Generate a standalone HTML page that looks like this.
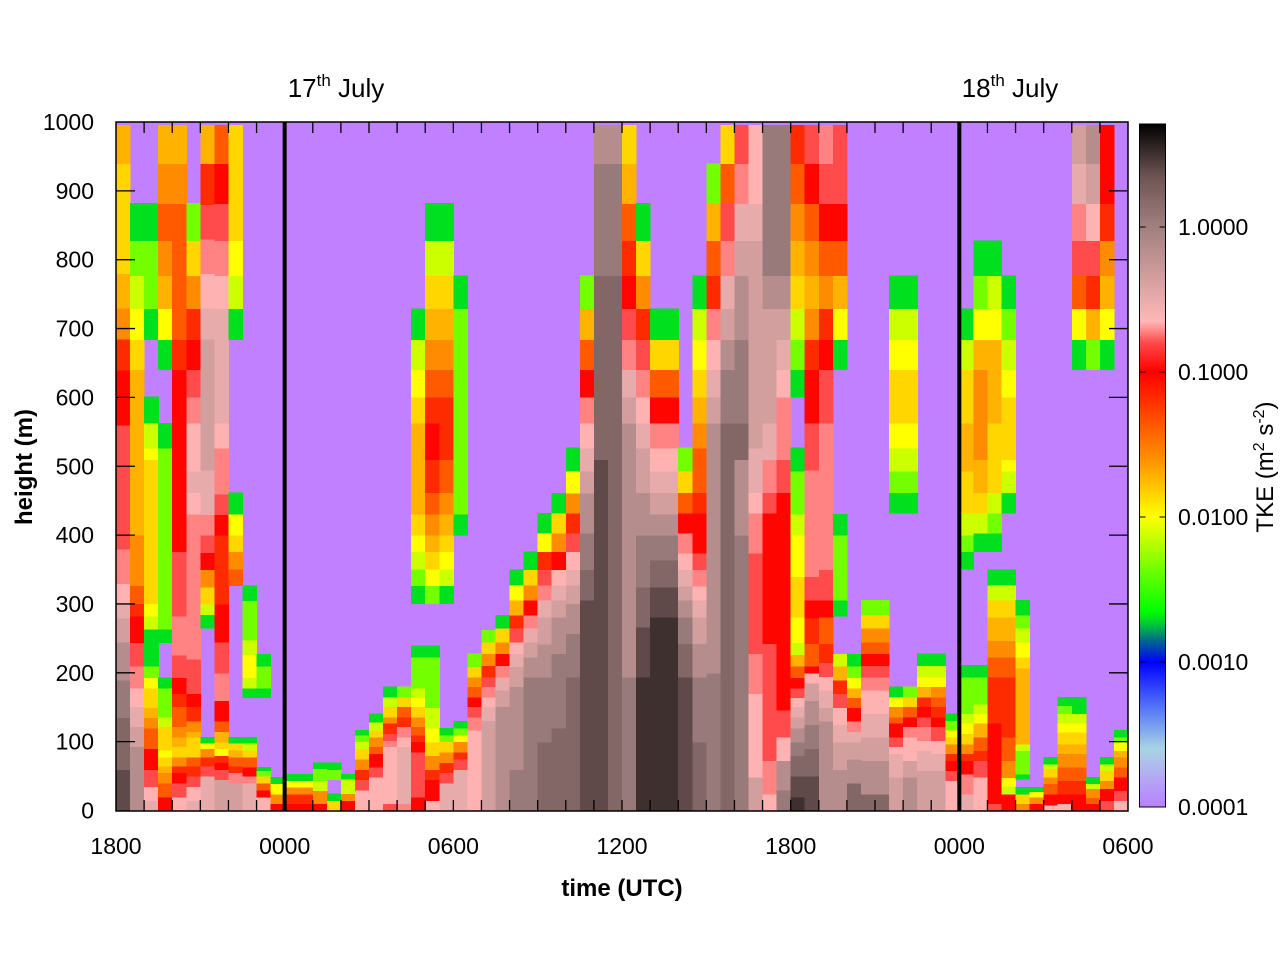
<!DOCTYPE html>
<html><head><meta charset="utf-8"><title>TKE time-height</title>
<style>
html,body{margin:0;padding:0;background:#fff;}
svg{display:block;font-family:"Liberation Sans",sans-serif;}
</style></head>
<body>
<svg id="chart" width="1280" height="960" viewBox="0 0 1280 960" xmlns="http://www.w3.org/2000/svg">
  <rect x="0" y="0" width="1280" height="960" fill="#ffffff"/>
  <rect x="116" y="122" width="1012" height="689" fill="#c080ff"/>
  <g id="heat" shape-rendering="crispEdges"></g>
  <g id="overlay"></g>
  <g id="cbar" shape-rendering="crispEdges"></g>
  <text x="336" y="97" font-size="26" text-anchor="middle" fill="#000">17<tspan font-size="17" dy="-11">th</tspan><tspan dy="11"> July</tspan></text>
  <text x="1010" y="97" font-size="26" text-anchor="middle" fill="#000">18<tspan font-size="17" dy="-11">th</tspan><tspan dy="11"> July</tspan></text>
  <text x="622" y="896" font-size="24" font-weight="bold" text-anchor="middle" fill="#000">time (UTC)</text>
  <text transform="translate(32,467) rotate(-90)" font-size="24" font-weight="bold" text-anchor="middle" fill="#000">height (m)</text>
  <text transform="translate(1273,467) rotate(-90)" font-size="24" text-anchor="middle" fill="#000">TKE (m<tspan font-size="16" dy="-9">2</tspan><tspan dy="9"> s</tspan><tspan font-size="16" dy="-9">-2</tspan><tspan dy="9">)</tspan></text>
</svg>
<script>
// ---- data ----
const levelCodes = ["g","l","v","y","Y","o","O","n","r","R","s","p","P","w","m","b","B","c","d","k"];
const levelValues = [0.002,0.0044,0.0074,0.010,0.014,0.019,0.026,0.042,0.066,0.095,0.16,0.19,0.22,0.32,0.45,0.71,1.12,1.6,2.5,3.2];
const profiles = [
"d60 c135 B190 b245 m280 w300 P330 p380 s560 R640 r685 O730 o780 Y940 o1000",
"b93 m122 w151 P178 p210 s244 R283 r301 n327 O400 o641 Y684 y729 v777 l828 g882",
"w15 P35 s60 R90 n120 O135 o150 Y178 y193 l210 g264 v283 y301 Y510 y527 v563 g601 .684 g729 l828 g882",
"R20 n40 O55 o65 Y78 y88 Y122 v136 l178 g193 .244 g264 l527 g563 .641 g684 y729 o777 O828 n882 O940 o1000",
"P20 s40 R55 r65 O78 Y93 o107 O122 n136 n151 r170 R193 s226 p283 s376 R641 r684 n882 O940 o1000",
"w15 P35 s50 r65 n78 Y107 o115 O130 r151 R170 s220 p431 P462 w493 P563 p601 s641 R684 r729 O777 Y828 l882",
"w50 s65 r78 O90 y98 g107 .265 g285 v300 Y325 O350 R375 s400 p430 w495 m685 w730 P780 p830 s880 r940 o1000",
"m45 s60 R70 r80 y90 Y100 o115 n130 R160 p200 s245 R300 r400 R430 s460 p527 P563 w729 P777 p828 s882 R940 n1000",
"m40 p55 r65 n78 o88 Y98 g107 .327 n351 O376 Y400 y431 g462 .684 g729 v777 y828 Y1000",
"w40 p50 R63 n78 Y88 v98 g107 .164 g178 v193 y227 v248 l305 g327",
"P20 R30 n40 Y50 l58 g63 .164 g178 l210 g227",
"R10 O24 y39 g49",
"R10 r24 O34 y44 g53",
"R10 r24 O34 y44 g53",
"R10 O29 v44 l61 g70",
"Y15 g25 .45 l60 g70",
"R15 O25 v46 g53",
"P30 s45 r60 O75 Y90 v100 l110 g117",
"P49 s63 R83 n93 O107 Y117 v129 g141",
"s10 P93 p102 s112 r127 O136 Y151 v165 g180",
"p10 w93 P107 p122 r136 n151 Y165 l180",
"R20 s85 R100 r110 n122 O136 Y151 y164 v178 l223 g240 .301 g327 l351 v376 y400 Y431 o563 Y601 y641 v684 g729",
"P15 R45 r60 O80 Y100 y120 v150 l223 g240 .301 l327 y351 Y376 o400 O431 n462 r510 R563 r601 n641 O684 o729 Y777 v828 g882",
"w40 s55 r70 O85 Y100 l110 g120 .301 g327 v351 y376 Y400 o431 O462 n510 r601 n641 O684 o729 Y777 v828 g882",
"w60 s75 r85 O100 y110 l120 g130 .400 g431 l729 g777",
"P117 p136 s151 R165 n180 O194 Y209 l228",
"m131 w151 P165 p180 s194 r211 O228 Y245 l262",
"b151 m175 w194 p211 R228 O245 Y265 g284",
"B60 b180 m209 w228 P245 s265 r284 o306 y328 g350",
"B194 b223 m245 w265 p284 R306 O328 Y350 g376",
"c100 B194 b242 m281 w306 p328 s350 r376 y403 g432",
"c120 B228 b281 m306 w328 P350 R376 O403 Y432 g461",
"c194 B257 b301 m328 w350 P376 s403 r432 O461 y493 g527",
"d306 c350 B403 b461 m493 w527 P563 p601 R641 n684 o729 l777",
"d510 c777 B940 b1000",
"c777 B940 b1000",
"B194 b563 m601 w641 p684 s729 R777 r828 n882 o940 Y1000",
"k194 d267 c325 B400 b462 m527 w563 P601 p641 s684 r729 O777 Y828 g882",
"k281 d325 c364 B400 b431 m462 w493 P527 p563 R601 n641 Y684 g729",
"k281 d325 c364 B400 b431 m462 w493 P527 p563 R601 n641 Y684 g729",
"d194 c243 B281 b306 m326 w350 P374 p403 R432 n462 Y493 l527",
"c100 B194 b243 m281 w306 P326 p350 s374 R432 r462 n527 O563 o601 Y641 y684 v729 g777",
"B200 b563 m601 w641 P684 p729 r777 n828 o882 l940",
"c563 B641 b684 m729 w777 p828 s882 n940 Y1000",
"B400 b510 c563 B684 b777 m828 w882 p940 s1000",
"m49 P170 p228 s374 p432 P462 w527 m828 w882 P1000",
"P24 p73 s243 R432 s462 p510 w563 m729 b777 B1000",
"B30 b73 P107 s146 R462 s510 p601 P641 w684 m729 b777 B1000",
"k20 d50 c80 B100 b120 m136 w151 P164 s178 R193 n210 o227 v244 y281 Y340 y400 v431 l493 g527 .601 g641 l684 v729 Y777 o828 O882 n940 r1000",
"d50 c90 B125 b160 m185 P200 R210 n243 r280 R306 s340 p495 s563 R641 r684 O729 o777 O828 n882 R940 s1000",
"b130 m150 w175 P195 s215 r243 n281 R306 s350 p563 s641 R684 r729 O777 n828 R882 s940 p1000",
"b60 m100 w125 P150 s170 r190 o210 v227 .283 g306 l400 g431 .641 g684 y729 o777 n828 R882 s1000",
"c40 b75 m100 w115 p130 R150 n164 o178 y193 l210 g227",
"c24 b73 m107 w141 P175 p194 s211 R228 n245 O265 Y284 l306",
"c24 b73 m107 w141 P175 p194 s211 R228 n245 O265 Y284 l306",
"m49 w83 P93 s107 R127 n136 O151 y165 g180 .432 g462 l493 v527 y563 Y641 y684 v729 g777",
"b49 m73 P107 p122 R136 n151 Y165 l180 .432 g462 l493 v527 y563 Y641 y684 v729 g777",
"m58 w87 P102 p122 s136 R151 r165 o180 y194 v211 g228",
"m58 w83 P102 s122 R136 r151 n165 O180 y194 v211 g228",
"P44 s58 R73 r83 O97 Y107 y117 l131 g141",
"w24 p53 R73 r83 O97 Y112 y127 v141 l194 g211 .351 g376 l400 v432 Y493 o563 Y641 v684 g729",
"P49 s73 r87 n107 o127 y141 v155 l194 g211 .376 g403 v432 Y462 o510 O641 o684 y729 l777 g828",
"s10 R127 r194 n223 O247 o281 Y306 v328 g350 .376 g403 l432 v462 Y563 o684 y729 v777 g828",
"R24 v36 y48 O73 n107 r194 n223 O247 o281 Y306 v328 g350 .432 g462 v493 y510 Y601 y641 v684 l729 g777",
"O10 Y24 g34 .46 g53 l87 v97 o207 Y223 y245 v265 l284 g306",
"R10 O20 y28 g34",
"P8 R24 n39 O49 Y61 v68 g78",
"P10 R24 r44 n63 O83 o97 Y114 y127 v141 l153 g165",
"R24 r44 n63 O83 o97 Y114 y127 v141 g165 .641 g684 y729 n777 s828 p882 w940 m1000",
"R10 n19 O32 v39 g49 .641 l684 o729 r777 s828 P882 m940 b1000",
"s15 R32 O44 Y58 v68 g78 .641 g684 y729 o777 O828 r882 R1000",
"P15 s29 R49 n63 O78 o87 y100 l107 g117"
];
const heightTicks = [0,100,200,300,400,500,600,700,800,900,1000];
const timeTickHours = [0,6,12,18,24,30,36];
const timeTickLabels = ["1800","0000","0600","1200","1800","0000","0600"];
const dayLineHours = [6,30];
const cbTickValues = [0.0001,0.001,0.01,0.1,1];
const cbTickLabels = ["0.0001","0.0010","0.0100","0.1000","1.0000"];
const columnStepHours = 0.5;

// ---- scales ----
const X0=116, X1=1128, Y0=810.5, Y1=122, HOURS=36;
function xScale(h){return X0+(X1-X0)*h/HOURS;}
function yScale(m){return Y0+(Y1-Y0)*m/1000;}
const CB_TOP=124, CB_BOT=807, LMIN=-4, LMAX=0.71;
function cbScale(v){return CB_BOT-(Math.log10(v)-LMIN)*145;}
const stops=[[-4,[184,128,255]],[-3.8,[180,168,244]],[-3.6,[168,212,228]],[-3.3,[80,112,248]],[-3,[0,0,255]],[-2.85,[0,106,138]],[-2.75,[0,192,64]],[-2.65,[0,255,0]],[-2,[255,255,0]],[-1.6,[255,144,0]],[-1,[255,0,0]],[-0.8,[255,72,72]],[-0.65,[255,184,184]],[0,[160,128,128]],[0.35,[110,84,84]],[0.71,[0,0,0]]];
function colorFor(v){
  const L=Math.log10(v);
  if(L<=stops[0][0]) return "rgb("+stops[0][1].join(",")+")";
  for(let i=1;i<stops.length;i++){
    if(L<=stops[i][0]){
      const a=stops[i-1],b=stops[i],t=(L-a[0])/(b[0]-a[0]);
      const c=a[1].map((q,k)=>Math.round(q+(b[1][k]-q)*t));
      return "rgb("+c.join(",")+")";
    }
  }
  return "rgb(0,0,0)";
}
const NS="http://www.w3.org/2000/svg";
function mk(tag,attrs,parent){const e=document.createElementNS(NS,tag);for(const k in attrs)e.setAttribute(k,attrs[k]);parent.appendChild(e);return e;}

// ---- heatmap ----
const heat=document.getElementById("heat");
profiles.forEach((prof,i)=>{
  const t0=i*columnStepHours, t1=t0+columnStepHours;
  const xa=xScale(t0), xb=xScale(t1);
  let bottom=0;
  prof.trim().split(/\s+/).forEach(seg=>{
    const code=seg[0], top=Math.min(parseFloat(seg.slice(1)),996);
    if(code!=="."){
      const v=levelValues[levelCodes.indexOf(code)];
      const r=mk("rect",{x:xa.toFixed(2),y:yScale(top).toFixed(2),width:(xb-xa+0.6).toFixed(2),height:(yScale(bottom)-yScale(top)+0.6).toFixed(2),fill:colorFor(v)},heat);
      
      
    }
    bottom=top;
  });
});

// ---- axes ----
const ov=document.getElementById("overlay");
dayLineHours.forEach(h=>{
  const l=mk("line",{x1:xScale(h),x2:xScale(h),y1:Y1,y2:811,stroke:"#000","stroke-width":4},ov);
  
  
});
for(let h=1;h<HOURS;h++){
  const x=xScale(h);
  const a=mk("line",{x1:x,x2:x,y1:Y1,y2:Y1+11,stroke:"#000","stroke-width":1.3},ov);
  
  
  const b=mk("line",{x1:x,x2:x,y1:811,y2:800,stroke:"#000","stroke-width":1.3},ov);
  
  
}
timeTickHours.forEach((h,i)=>{
  const t=mk("text",{x:xScale(h),y:854,"font-size":23,"text-anchor":"middle",fill:"#000"},ov);
  t.textContent=timeTickLabels[i];
  
  
});
heightTicks.forEach(m=>{
  const y=yScale(m);
  if(m>0&&m<1000){
    const a=mk("line",{x1:X0,x2:X0+19,y1:y,y2:y,stroke:"#000","stroke-width":1.3},ov);
    
    
    const b=mk("line",{x1:X1-19,x2:X1,y1:y,y2:y,stroke:"#000","stroke-width":1.3},ov);
    
    
  }
  const t=mk("text",{x:94,y:y+8,"font-size":23,"text-anchor":"end",fill:"#000"},ov);
  t.textContent=String(m);
  
  
});
const fr=mk("rect",{x:X0,y:Y1,width:X1-X0,height:811-Y1,fill:"none",stroke:"#000","stroke-width":1.5},ov);



// ---- colorbar ----
const cb=document.getElementById("cbar");
const CBX=1139.5, CBW=26;
for(let y=CB_TOP;y<CB_BOT;y+=1){
  const L=LMIN+(CB_BOT-y-0.5)/145;
  const r=mk("rect",{x:CBX,y:y,width:CBW,height:1.2,fill:colorFor(Math.pow(10,L))},cb);
  
  
}
const cf=mk("rect",{x:CBX,y:CB_TOP,width:CBW,height:CB_BOT-CB_TOP,fill:"none",stroke:"#000","stroke-width":1.3},cb);


cbTickValues.forEach((v,i)=>{
  const y=cbScale(v);
  const a=mk("line",{x1:CBX,x2:CBX+6,y1:y,y2:y,stroke:"#000","stroke-width":1.2},cb);
  
  
  const b=mk("line",{x1:CBX+CBW-6,x2:CBX+CBW,y1:y,y2:y,stroke:"#000","stroke-width":1.2},cb);
  
  
  const t=mk("text",{x:1178,y:y+8,"font-size":23,fill:"#000"},cb);
  t.textContent=cbTickLabels[i];
  
  
});
</script>
</body></html>
